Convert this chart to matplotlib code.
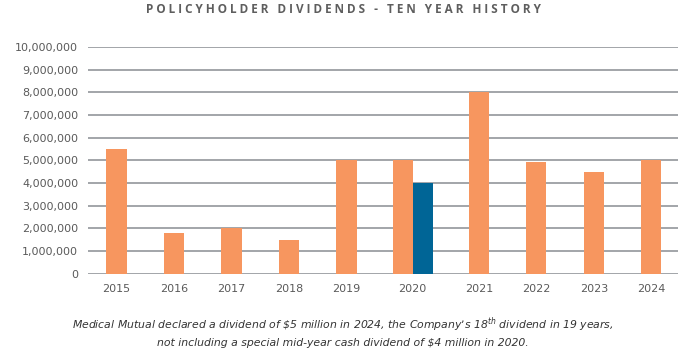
import numpy as np
import matplotlib.pyplot as plt
from matplotlib.ticker import FuncFormatter

# Datos
years = ['2015', '2016', '2017', '2018', '2019', '2020', '2021', '2022', '2023', '2024']
dividends = [5.5e6, 1.8e6, 2.0e6, 1.5e6, 5.0e6, 5.0e6, 8.0e6, 4.93e6, 4.5e6, 5.0e6]
special_year = '2020'
special_dividend = 4.0e6

orange = '#F7965F'
blue = '#006596'
gray_text = '#5a5a5a'

# posiciones: 2020 lleva dos barras, asi que se abre un poco el hueco
idx = np.arange(len(years))
x = idx + np.where(idx == 5, 0.15, np.where(idx > 5, 0.3, 0.0))
w = 0.35

fig = plt.figure(figsize=(6.86, 3.52), dpi=100)
ax = fig.add_axes([0.128, 0.222, 0.86, 0.645])

i_sp = years.index(special_year)
x_bars = x.copy()
x_bars[i_sp] = x[i_sp] - w / 2

ax.bar(x_bars, dividends, width=w, color=orange, zorder=3)
ax.bar(x[i_sp] + w / 2, special_dividend, width=w, color=blue, zorder=3)

ax.set_ylim(0, 10e6)
ax.set_yticks(np.arange(0, 10e6 + 1, 1e6))
ax.yaxis.set_major_formatter(FuncFormatter(lambda v, p: f'{int(v):,}'))
ax.set_xlim(-0.5, 9.76)
ax.set_xticks(x)
ax.set_xticklabels(years)

ax.grid(axis='y', color='#9b9ea2', linewidth=1.3, zorder=0)
for s in ax.spines.values():
    s.set_visible(False)
ax.tick_params(length=0, labelsize=8, colors=gray_text, pad=7)
ax.tick_params(axis='x', pad=7)

fig.text(0.5, 0.972, 'P O L I C Y H O L D E R   D I V I D E N D S   -   T E N   Y E A R   H I S T O R Y',
         ha='center', va='center', fontsize=8.5, fontweight='bold',
         color='#5e5e5e', family='Open Sans')

fig.text(0.5, 0.058,
         'Medical Mutual declared a dividend of \\$5 million in 2024, the Company\u2019s 18$^{\\mathregular{th}}$ dividend in 19 years,\n'
         'not including a special mid-year cash dividend of \\$4 million in 2020.',
         ha='center', va='center', fontsize=7.8, style='italic', color='#333333',
         linespacing=1.45)

fig.savefig('out.png', dpi=100)
